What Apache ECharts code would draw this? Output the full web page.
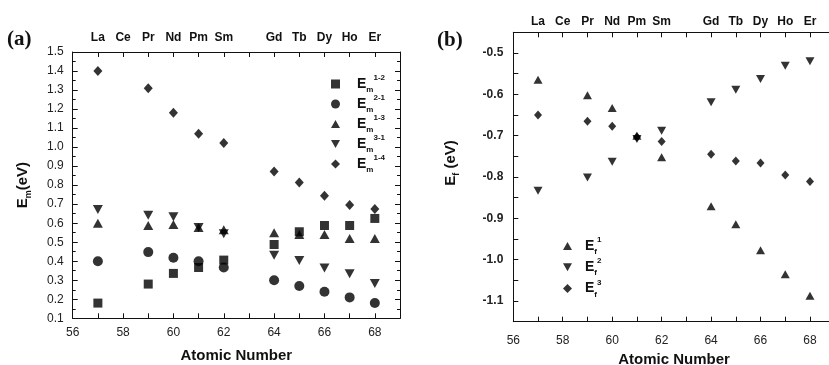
<!DOCTYPE html>
<html>
<head>
<meta charset="utf-8">
<script src="https://cdn.jsdelivr.net/npm/echarts@6/dist/echarts.min.js"></script>
<style>
  html, body { margin: 0; padding: 0; background: #fff; }
  #chart { width: 829px; height: 365px; }
</style>
</head>
<body>
<div id="chart"></div>
<script>
// atomic numbers of the measured elements
const atomicNumbers = [57, 59, 60, 61, 62, 64, 65, 66, 67, 68]

// top axis element symbols
const topTickZ = [57, 58, 59, 60, 61, 62, 64, 65, 66, 67, 68]
const topTickLabels = ['La', 'Ce', 'Pr', 'Nd', 'Pm', 'Sm', 'Gd', 'Tb', 'Dy', 'Ho', 'Er']

// panel (a): migration energies E_m (eV)
const em12 = [0.18, 0.28, 0.336, 0.367, 0.406, 0.488, 0.555, 0.588, 0.588, 0.625]
const em21 = [0.40, 0.448, 0.418, 0.40, 0.367, 0.30, 0.27, 0.24, 0.21, 0.18]
const em13 = [0.60, 0.588, 0.593, 0.578, 0.565, 0.55, 0.54, 0.54, 0.52, 0.52]
const em31 = [0.672, 0.642, 0.634, 0.578, 0.545, 0.432, 0.404, 0.364, 0.334, 0.283]
const em14 = [1.40, 1.31, 1.18, 1.07, 1.022, 0.872, 0.814, 0.744, 0.695, 0.674]

// panel (b): formation energies E_f (eV)
const ef1 = [-0.565, -0.602, -0.633, -0.700, -0.752, -0.871, -0.914, -0.977, -1.035, -1.087]
const ef2 = [-0.833, -0.801, -0.763, -0.708, -0.688, -0.619, -0.589, -0.563, -0.531, -0.520]
const ef3 = [-0.650, -0.665, -0.677, -0.703, -0.714, -0.745, -0.761, -0.766, -0.795, -0.811]

const emKeys = ['1-2', '2-1', '1-3', '3-1', '1-4']
const efKeys = ['1', '2', '3']

const pairs = vals => atomicNumbers.map((z, i) => [z, vals[i]])

const FONT = '"Liberation Sans", Arial, sans-serif'
const lineStyle = { color: '#111', width: 1 }

const UP = 'path://M5,0L10,9L0,9Z'
const DOWN = 'path://M0,0L10,0L5,9Z'

function xBottom(gridIndex, labelMargin, nameGap) {
  return {
    type: 'value', gridIndex, position: 'bottom', min: 56, max: 69, interval: 2,
    axisLine: { show: true, onZero: false, lineStyle },
    axisTick: { inside: true, length: 5, lineStyle },
    minorTick: { show: true, splitNumber: 2, length: 5, lineStyle },
    axisLabel: { showMaxLabel: false, margin: labelMargin, color: '#222', fontSize: 12, fontFamily: FONT },
    splitLine: { show: false },
    name: 'Atomic Number', nameLocation: 'middle', nameGap,
    nameTextStyle: { fontSize: 15, fontWeight: 'bold', color: '#111', fontFamily: FONT }
  }
}

function xTop(gridIndex, labelMargin) {
  return {
    type: 'value', gridIndex, position: 'top', min: 56, max: 69, interval: 1,
    axisLine: { show: true, onZero: false, lineStyle },
    axisTick: { inside: true, length: 5, lineStyle },
    axisLabel: {
      margin: labelMargin, color: '#111', fontSize: 12, fontWeight: 'bold', fontFamily: FONT,
      formatter: v => {
        const i = topTickZ.indexOf(v)
        return i >= 0 ? topTickLabels[i] : ''
      }
    },
    splitLine: { show: false }
  }
}

function legendRich(padLeft) {
  return {
    e: { fontSize: 14, fontWeight: 'bold', color: '#111', fontFamily: FONT, padding: [0, 0, 0, padLeft], verticalAlign: 'middle', lineHeight: 20 },
    m: { fontSize: 8, fontWeight: 'bold', color: '#111', fontFamily: FONT, verticalAlign: 'bottom', lineHeight: 8 },
    s: { fontSize: 8, fontWeight: 'bold', color: '#111', fontFamily: FONT, verticalAlign: 'top', lineHeight: 8 }
  }
}

function scatter(name, data, symbol, size, xi, yi) {
  return {
    name, type: 'scatter', data, symbol, symbolSize: size,
    xAxisIndex: xi, yAxisIndex: yi,
    itemStyle: { color: '#000' }, silent: true
  }
}

const yName = () => ({
  rich: {
    e: { fontSize: 15, fontWeight: 'bold', color: '#111', fontFamily: FONT, lineHeight: 20 },
    m: { fontSize: 9, fontWeight: 'bold', color: '#111', fontFamily: FONT, verticalAlign: 'bottom', lineHeight: 9 },
    t: { fontSize: 15, fontWeight: 'bold', color: '#111', fontFamily: FONT, lineHeight: 20 }
  }
})

const chart = echarts.init(document.getElementById('chart'), null, { renderer: 'canvas' })

chart.setOption({
  backgroundColor: '#fff',
  animation: false,
  textStyle: { fontFamily: FONT },
  grid: [
    { left: 72.7, top: 52, right: 429, bottom: 46.7, outerBoundsMode: 'none', containLabel: false },
    { left: 513.3, top: 32.3, right: -5.7, bottom: 43.3, outerBoundsMode: 'none', containLabel: false }
  ],
  xAxis: [
    xBottom(0, 8, 30),
    xTop(0, 8),
    xBottom(1, 13, 31),
    xTop(1, 5)
  ],
  yAxis: [
    {
      type: 'value', gridIndex: 0, min: 0.1, max: 1.5, interval: 0.1,
      axisLine: { show: true, lineStyle },
      axisTick: { inside: true, length: 5, lineStyle },
      minorTick: { show: true, splitNumber: 2, length: 3, lineStyle },
      axisLabel: { margin: 9, color: '#222', fontSize: 12, fontFamily: FONT, formatter: v => v.toFixed(1) },
      splitLine: { show: false },
      name: '{e|E}{m|m}{t|(eV)}', nameLocation: 'middle', nameRotate: 90, nameGap: 40,
      nameTextStyle: yName()
    },
    {
      type: 'value', gridIndex: 0, position: 'right', min: 0.1, max: 1.5, interval: 0.1,
      axisLine: { show: true, lineStyle },
      axisTick: { inside: true, length: 5, lineStyle },
      minorTick: { show: true, splitNumber: 2, length: 3, lineStyle },
      axisLabel: { show: false },
      splitLine: { show: false }
    },
    {
      type: 'value', gridIndex: 1, min: -1.15, max: -0.45, interval: 0.05,
      axisLine: { show: true, lineStyle },
      axisTick: { inside: true, length: 5, lineStyle },
      axisLabel: {
        margin: 10, color: '#222', fontSize: 12, fontWeight: 'bold', fontFamily: FONT,
        formatter: v => (Math.round(v * 100) % 10 === 0 && v < -0.46 && v > -1.14) ? v.toFixed(1) : ''
      },
      splitLine: { show: false },
      name: '{e|E}{m|f}{t| (eV)}', nameLocation: 'middle', nameRotate: 90, nameGap: 52,
      nameTextStyle: Object.assign({ padding: [0, 0, 0, 28] }, yName())
    }
  ],
  legend: [
    {
      orient: 'vertical', left: 326, top: 69, itemWidth: 9, itemHeight: 9, itemGap: 0,
      data: [
        { name: 'Em1-2', icon: 'rect' },
        { name: 'Em2-1', icon: 'circle' },
        { name: 'Em1-3', icon: UP },
        { name: 'Em3-1', icon: DOWN },
        { name: 'Em1-4', icon: 'diamond' }
      ],
      formatter: name => '{e|E}{m|m}{s|' + name.slice(2) + '}',
      textStyle: { rich: legendRich(12) },
      selectedMode: false
    },
    {
      orient: 'vertical', left: 558, top: 231, itemWidth: 9, itemHeight: 9, itemGap: 1.2,
      data: [
        { name: 'Ef1', icon: UP },
        { name: 'Ef2', icon: DOWN },
        { name: 'Ef3', icon: 'diamond' }
      ],
      formatter: name => '{e|E}{m|f}{s|' + name.slice(2) + '}',
      textStyle: { rich: legendRich(8) },
      selectedMode: false
    }
  ],
  graphic: [
    { type: 'text', left: 7, top: 29, style: { text: '(a)', font: 'bold 21px "Liberation Serif", "Times New Roman", serif', fill: '#111' } },
    { type: 'text', left: 437, top: 30, style: { text: '(b)', font: 'bold 21px "Liberation Serif", "Times New Roman", serif', fill: '#111' } }
  ],
  series: [
    scatter('Em' + emKeys[0], pairs(em12), 'rect', 9, 0, 0),
    scatter('Em' + emKeys[1], pairs(em21), 'circle', 10, 0, 0),
    scatter('Em' + emKeys[2], pairs(em13), UP, [10, 9], 0, 0),
    scatter('Em' + emKeys[3], pairs(em31), DOWN, [10, 9], 0, 0),
    scatter('Em' + emKeys[4], pairs(em14), 'diamond', [9, 10], 0, 0),
    scatter('Ef' + efKeys[0], pairs(ef1), UP, [9, 8], 2, 2),
    scatter('Ef' + efKeys[1], pairs(ef2), DOWN, [9, 8], 2, 2),
    scatter('Ef' + efKeys[2], pairs(ef3), 'diamond', [8, 9], 2, 2)
  ]
})

window.addEventListener('resize', () => chart.resize())
</script>
</body>
</html>
